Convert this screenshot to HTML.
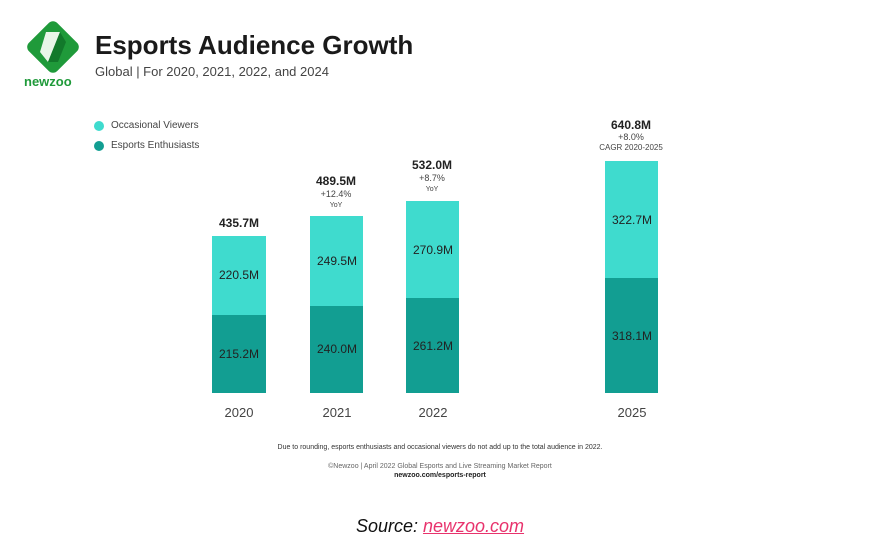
<!DOCTYPE html>
<html><head><style>
body{margin:0;width:884px;height:540px;background:#fff;font-family:"Liberation Sans",sans-serif;position:relative;overflow:hidden}
div{position:absolute}
.bl{background:#3fdbce}.bd{background:#129e92}
.v{color:#222;font-size:12px;text-align:center;width:54px}
.t{color:#222;font-size:12px;font-weight:bold;text-align:center;width:80px}
.s{color:#444;font-size:9px;text-align:center;width:80px;line-height:10px}
.y{color:#444;font-size:13px;text-align:center;width:54px;top:405px}
</style></head><body>
<svg style="position:absolute;left:24px;top:18px" width="58" height="58" viewBox="0 0 58 58">
<rect x="9" y="9" width="40" height="40" rx="6" transform="rotate(45 29 29)" fill="#1f9a3a"/>
<path d="M22 14 L36 14 L24 44 L16 34 Z" fill="#e8f6e8"/>
<path d="M36 14 L42 24 L34 44 L24 44 Z" fill="#0d6b25" opacity="0.7"/>
</svg>
<div style="left:24px;top:74px;color:#1f9a3a;font-weight:bold;font-size:13px">newzoo</div>
<div style="left:95px;top:30px;font-size:26px;font-weight:bold;color:#1a1a1a">Esports Audience Growth</div>
<div style="left:95px;top:64px;font-size:13px;color:#444">Global | For 2020, 2021, 2022, and 2024</div>
<div style="left:94px;top:121px;width:10px;height:10px;border-radius:50%" class="bl"></div>
<div style="left:111px;top:120px;font-size:10px;color:#444">Occasional Viewers</div>
<div style="left:94px;top:141px;width:10px;height:10px;border-radius:50%" class="bd"></div>
<div style="left:111px;top:140px;font-size:10px;color:#444">Esports Enthusiasts</div>

<div class="bl" style="left:212px;top:236px;width:54px;height:79px"></div>
<div class="bd" style="left:212px;top:315px;width:54px;height:78px"></div>
<div class="v" style="left:212px;top:268px">220.5M</div>
<div class="v" style="left:212px;top:347px">215.2M</div>
<div class="t" style="left:199px;top:216px">435.7M</div>
<div class="y" style="left:212px">2020</div>

<div class="bl" style="left:310px;top:216px;width:53px;height:90px"></div>
<div class="bd" style="left:310px;top:306px;width:53px;height:87px"></div>
<div class="v" style="left:310px;top:254px">249.5M</div>
<div class="v" style="left:310px;top:342px">240.0M</div>
<div class="t" style="left:296px;top:174px">489.5M</div>
<div class="s" style="left:296px;top:189px">+12.4%<br><span style="font-size:7px">YoY</span></div>
<div class="y" style="left:310px">2021</div>

<div class="bl" style="left:406px;top:201px;width:53px;height:97px"></div>
<div class="bd" style="left:406px;top:298px;width:53px;height:95px"></div>
<div class="v" style="left:406px;top:243px">270.9M</div>
<div class="v" style="left:406px;top:339px">261.2M</div>
<div class="t" style="left:392px;top:158px">532.0M</div>
<div class="s" style="left:392px;top:173px">+8.7%<br><span style="font-size:7px">YoY</span></div>
<div class="y" style="left:406px">2022</div>

<div class="bl" style="left:605px;top:161px;width:53px;height:117px"></div>
<div class="bd" style="left:605px;top:278px;width:53px;height:115px"></div>
<div class="v" style="left:605px;top:213px">322.7M</div>
<div class="v" style="left:605px;top:329px">318.1M</div>
<div class="t" style="left:591px;top:118px">640.8M</div>
<div class="s" style="left:581px;top:132px;width:100px">+8.0%<br><span style="font-size:8px">CAGR 2020-2025</span></div>
<div class="y" style="left:605px">2025</div>

<div style="left:200px;top:444px;width:480px;text-align:center;font-size:7px;color:#333">Due to rounding, esports enthusiasts and occasional viewers do not add up to the total audience in 2022.</div>
<div style="left:200px;top:463px;width:480px;text-align:center;font-size:7px;color:#666">©Newzoo | April 2022 Global Esports and Live Streaming Market Report</div>
<div style="left:200px;top:472px;width:480px;text-align:center;font-size:7px;color:#222;font-weight:bold">newzoo.com/esports-report</div>
<div style="left:200px;top:516px;width:480px;text-align:center;font-size:18px;font-style:italic;color:#111">Source: <span style="color:#e8336d;text-decoration:underline">newzoo.com</span></div>
</body></html>
